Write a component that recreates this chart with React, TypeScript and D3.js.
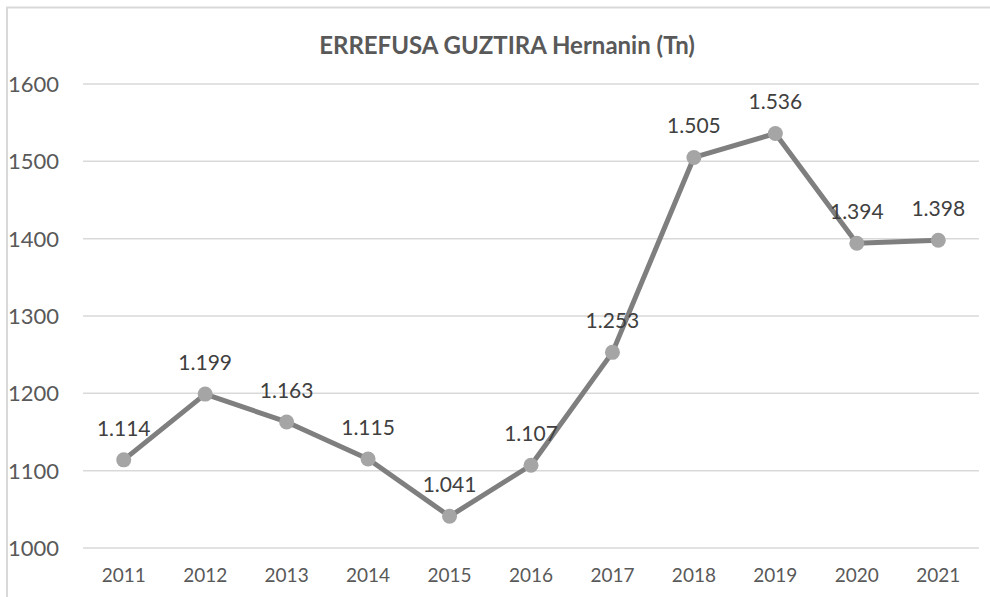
import React from "react";
import * as d3 from "d3";

const years = ["2011", "2012", "2013", "2014", "2015", "2016", "2017", "2018", "2019", "2020", "2021"];
const values = [1114, 1199, 1163, 1115, 1041, 1107, 1253, 1505, 1536, 1394, 1398];
const labels = ["1.114", "1.199", "1.163", "1.115", "1.041", "1.107", "1.253", "1.505", "1.536", "1.394", "1.398"];
const yTicks = [1000, 1100, 1200, 1300, 1400, 1500, 1600];
const title = "ERREFUSA GUZTIRA Hernanin (Tn)";

const W = 990;
const H = 597;
const plotLeft = 83;
const plotRight = 979;
const plotTop = 84;
const plotBottom = 548;
const font = "Lato, 'Open Sans', sans-serif";

export default function App() {
  const x = d3.scaleBand<string>().domain(years).range([plotLeft, plotRight]).padding(0);
  const y = d3.scaleLinear().domain([1000, 1600]).range([plotBottom, plotTop]);
  const cx = (d: string) => (x(d) ?? 0) + x.bandwidth() / 2;
  const line = d3
    .line<number>()
    .x((_, i) => cx(years[i]))
    .y((v) => y(v));

  return (
    <svg
      width={W}
      height={H}
      style={{ position: "absolute", left: 0, top: 0, background: "#fff" }}
    >
      <rect x={0} y={0} width={W} height={H} fill="#fff" />
      <rect x={7} y={7.5} width={W + 20} height={H + 20} fill="none" stroke="#d9d9d9" strokeWidth={2} />
      <text
        x={507}
        y={54}
        textAnchor="middle"
        fontFamily={font}
        fontWeight="bold"
        fontSize={24}
        fill="#595959"
      >
        {title}
      </text>
      {yTicks.map((t) => (
        <g key={t}>
          <line x1={plotLeft} x2={plotRight} y1={y(t)} y2={y(t)} stroke="#d9d9d9" strokeWidth={1.5} />
          <text
            x={59}
            y={y(t)}
            dy="0.36em"
            textAnchor="end"
            fontFamily={font}
            fontSize={22}
            fill="#595959"
          >
            {t}
          </text>
        </g>
      ))}
      {years.map((yr) => (
        <text
          key={yr}
          x={cx(yr)}
          y={582}
          textAnchor="middle"
          fontFamily={font}
          fontSize={19}
          fill="#595959"
        >
          {yr}
        </text>
      ))}
      <path d={line(values) ?? ""} fill="none" stroke="#7f7f7f" strokeWidth={5} strokeLinejoin="round" />
      {values.map((v, i) => (
        <circle key={i} cx={cx(years[i])} cy={y(v)} r={7.5} fill="#a5a5a5" />
      ))}
      {values.map((v, i) => (
        <text
          key={"l" + i}
          x={cx(years[i])}
          y={y(v) - 24}
          textAnchor="middle"
          fontFamily={font}
          fontSize={21}
          fill="#404040"
        >
          {labels[i]}
        </text>
      ))}
    </svg>
  );
}
